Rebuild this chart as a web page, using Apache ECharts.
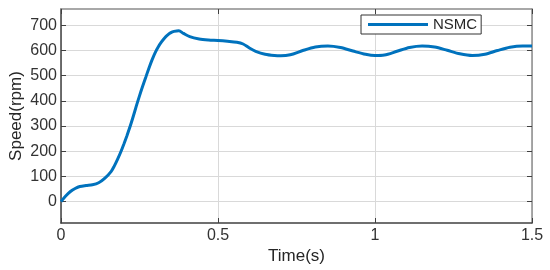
<!DOCTYPE html>
<html>
<head>
<meta charset="utf-8">
<script src="https://cdn.jsdelivr.net/npm/echarts@6/dist/echarts.min.js"></script>
<style>html,body{margin:0;padding:0;background:#fff}#c{width:550px;height:270px}</style>
</head>
<body>
<div id="c"></div>
<script>
const times = [0, 0.015, 0.03, 0.045, 0.06, 0.08, 0.1, 0.12, 0.14, 0.16, 0.17, 0.18, 0.19, 0.2, 0.21, 0.22, 0.23, 0.24, 0.25, 0.26, 0.27, 0.28, 0.29, 0.3, 0.31, 0.32, 0.33, 0.34, 0.35, 0.36, 0.375, 0.39, 0.41, 0.44, 0.47, 0.5, 0.53, 0.56, 0.58, 0.6, 0.62, 0.65, 0.68, 0.7, 0.73, 0.77, 0.81, 0.85, 0.89, 0.93, 0.97, 1.0, 1.03, 1.07, 1.11, 1.15, 1.19, 1.23, 1.27, 1.31, 1.35, 1.39, 1.43, 1.47, 1.5];
const speeds = [0, 22, 40, 52, 60, 64, 67, 75, 93, 120, 142, 168, 196, 228, 262, 298, 338, 380, 420, 458, 494, 530, 563, 592, 615, 634, 650, 662, 671, 676, 679, 668, 655, 646, 642, 640, 637, 633, 626, 610, 597, 585, 580, 579, 583, 600, 614, 618, 612, 598, 585, 580, 582, 597, 612, 618, 614, 601, 587, 580, 585, 600, 613, 618, 618];
const yTicks = [0, 100, 200, 300, 400, 500, 600, 700];
const seriesName = 'NSMC';

const font = 'Liberation Sans, Arial, sans-serif';
const chart = echarts.init(document.getElementById('c'));
const data = times.map((t, i) => [t, speeds[i]]);
chart.setOption({
  animation: false,
  grid: {left: 61, right: 18, top: 9, bottom: 47, containLabel: false, outerBoundsMode: 'none'},
  legend: {
    data: [seriesName], left: 361, top: 15,
    itemWidth: 60, itemHeight: 3, icon: 'rect', itemGap: 5,
    padding: [2, 4, 2, 7],
    borderColor: '#333', borderWidth: 1, backgroundColor: '#fff',
    textStyle: {fontFamily: font, fontSize: 15, color: '#262626', padding: [0,0,0,0]}
  },
  xAxis: [{
    type: 'value', min: 0, max: 1.5, interval: 0.5,
    name: 'Time(s)', nameLocation: 'middle', nameGap: 25, nameMoveOverlap: false,
    nameTextStyle: {fontFamily: font, fontSize: 17, color: '#262626'},
    axisLine: {onZero: false, lineStyle: {color: '#404040', width: 1.5}},
    axisTick: {inside: true, length: 5, lineStyle: {color: '#404040'}},
    axisLabel: {fontFamily: font, fontSize: 16, color: '#333', margin: 5},
    splitLine: {show: true, lineStyle: {color: '#d9d9d9', width: 1}}
  }, {
    type: 'value', min: 0, max: 1.5, interval: 0.5, position: 'top',
    axisLine: {show: true, onZero: false, lineStyle: {color: '#8c8c8c', width: 1.5}},
    axisTick: {show: true, inside: true, length: 5, lineStyle: {color: '#404040'}},
    axisLabel: {show: false}, splitLine: {show: false}
  }],
  yAxis: [{
    type: 'value', min: -85, max: 765,
    name: 'Speed(rpm)', nameLocation: 'middle', nameGap: 36, nameMoveOverlap: false,
    nameTextStyle: {fontFamily: font, fontSize: 17, color: '#262626'},
    axisLine: {show: true, onZero: false, lineStyle: {color: '#404040', width: 1.5}},
    axisTick: {show: true, inside: true, length: 5, customValues: yTicks, lineStyle: {color: '#404040'}},
    axisLabel: {fontFamily: font, fontSize: 16, color: '#333', margin: 4, customValues: yTicks},
    splitLine: {show: true, lineStyle: {color: '#d9d9d9', width: 1}}
  }, {
    type: 'value', min: -85, max: 765, position: 'right',
    axisLine: {show: true, onZero: false, lineStyle: {color: '#8c8c8c', width: 1.5}},
    axisTick: {show: true, inside: true, length: 5, customValues: yTicks, lineStyle: {color: '#404040'}},
    axisLabel: {show: false}, splitLine: {show: false}
  }],
  series: [{
    name: seriesName, type: 'line', data: data, showSymbol: false,
    smooth: 0.3, lineStyle: {color: '#0072BD', width: 3}, itemStyle: {color: '#0072BD'},
    clip: true
  }]
});
</script>
</body>
</html>
